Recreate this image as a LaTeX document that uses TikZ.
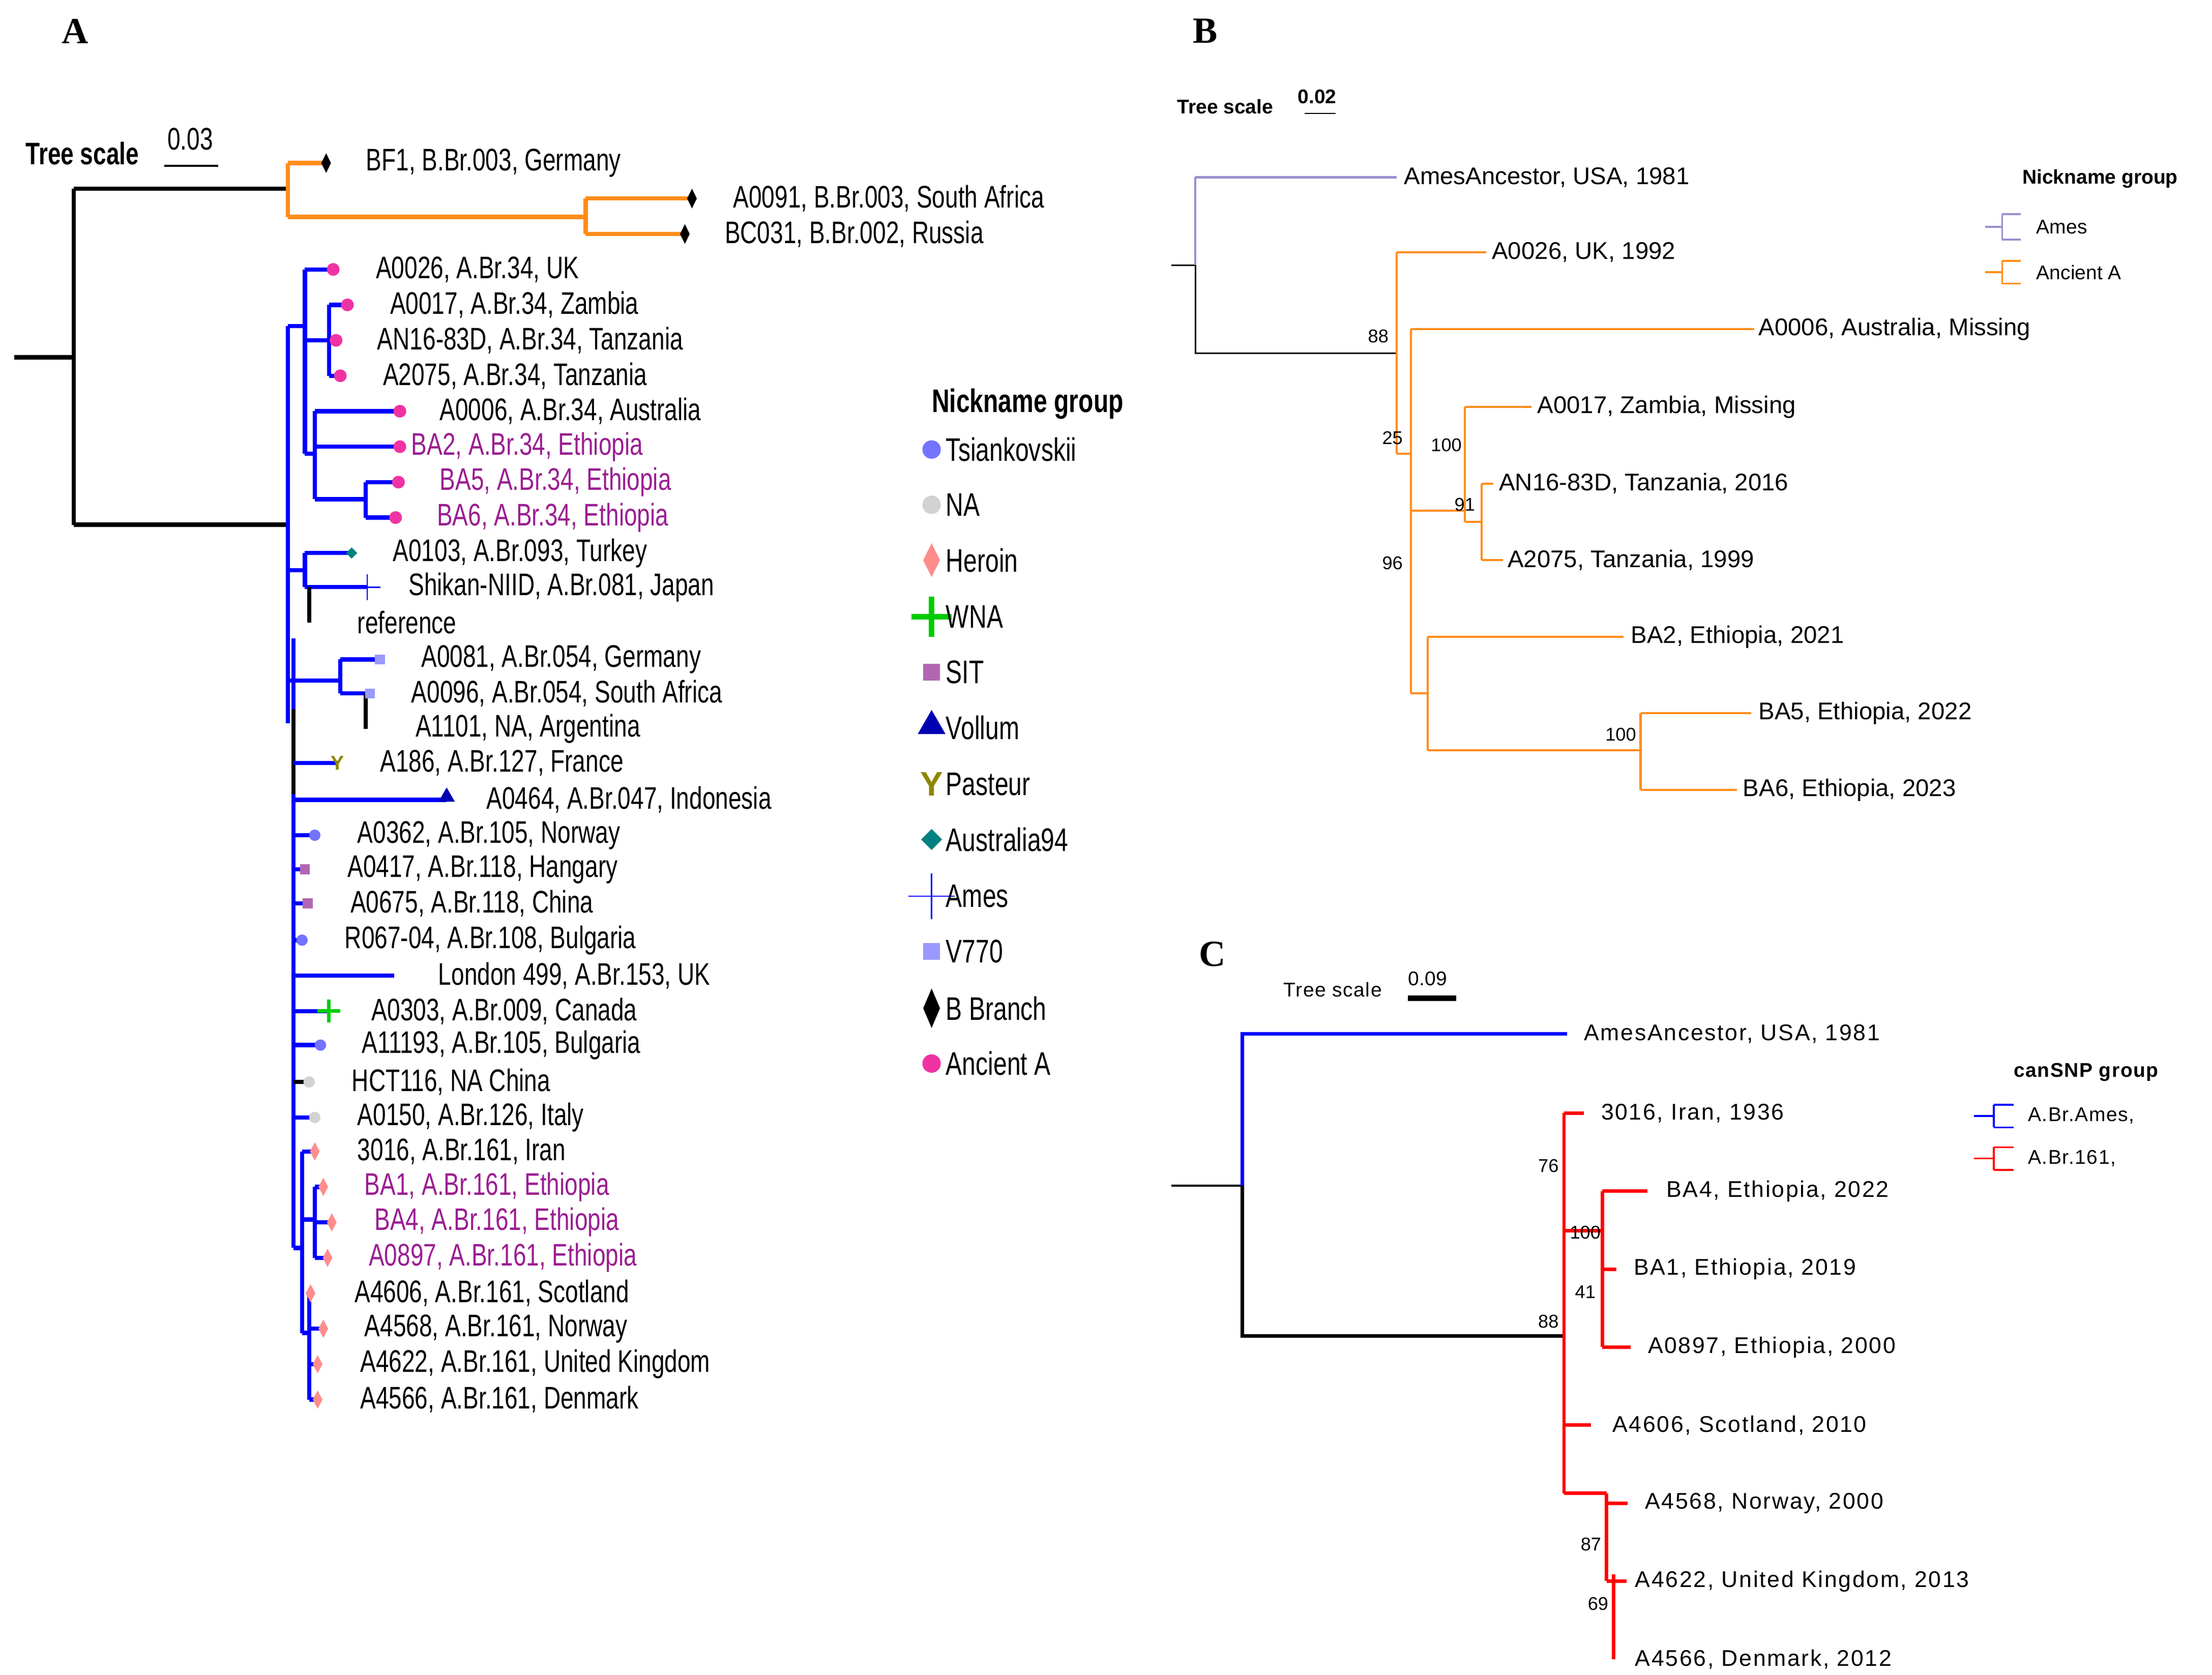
\documentclass[tikz,border=0pt]{standalone}
\usepackage{fontspec}
\setmainfont{Liberation Sans}
\usetikzlibrary{shapes.geometric,shapes.misc}
\definecolor{pur}{HTML}{9B1E91}
\definecolor{orb}{HTML}{FF8C1A}
\definecolor{lav}{HTML}{9A8FD0}
\tikzset{
 la/.style={anchor=west,inner sep=0,font=\fontsize{22}{22}\selectfont,xscale=0.75},
 lb/.style={anchor=west,inner sep=0,font=\fontsize{17}{17}\selectfont},
 lc/.style={anchor=west,inner sep=0,font=\fontsize{16}{16}\selectfont\addfontfeature{LetterSpace=6}},
 bs/.style={inner sep=0,font=\fontsize{13}{13}\selectfont},
 bl/.style={blue,line width=3pt},
 ol/.style={orb,line width=3pt},
 kl/.style={black,line width=3pt},
 ancA/.style={circle,fill=magenta!80,inner sep=0,minimum size=9pt},
 tsi/.style={circle,fill=blue!55,inner sep=0,minimum size=8pt},
 nag/.style={circle,fill=gray!35,inner sep=0,minimum size=8pt},
 her/.style={diamond,fill=red!45,inner sep=0,minimum width=7pt,minimum height=13pt},
 bbr/.style={diamond,fill=black,inner sep=0,minimum width=7pt,minimum height=14pt},
 sit/.style={rectangle,fill=violet!60,inner sep=0,minimum size=7pt},
 vsq/.style={rectangle,fill=blue!40,inner sep=0,minimum size=7pt},
 aus/.style={diamond,fill=teal,inner sep=0,minimum size=8pt},
 pas/.style={inner sep=0,text=olive,font=\bfseries\fontsize{14}{14}\selectfont},
 wna/.style={cross out,draw=green!80!black,line width=2.5pt,inner sep=0,minimum size=9pt,rotate=45},
 ame/.style={cross out,draw=blue,line width=1pt,inner sep=0,minimum size=14pt,rotate=45},
 vol/.style={isosceles triangle,shape border rotate=90,fill=blue!70!black,inner sep=0,minimum size=10pt,isosceles triangle apex angle=60},
}
\begin{document}
\begin{tikzpicture}[x=1pt,y=-1pt]
\useasboundingbox (0,0) rectangle (1560,1181);
% ---------------- Panel A
\node (pA) at (53,22) {\fontspec{Liberation Serif}\bfseries\fontsize{26}{26}\selectfont A};
\node[la,font=\bfseries\fontsize{22}{22}\selectfont] (tsA) at (18,108) {Tree scale};
\node[la] (tsAn) at (118,98) {0.03};
\draw[line width=1.5pt] (116,117) -- (154,117);
\draw[kl] (10,252) -- (52,252);
\draw[kl] (52,133) -- (52,370);
\draw[kl] (52,133) -- (203,133);
\draw[kl] (52,370) -- (203,370);
% B branch
\draw[ol] (203,115) -- (203,153);
\draw[ol] (203,115) -- (230,115);
\draw[ol] (203,153) -- (413,153);
\draw[ol] (413,140) -- (413,165);
\draw[ol] (413,140) -- (488,140);
\draw[ol] (413,165) -- (483,165);
\node[bbr] (tBF1) at (230,115) {};
\node[bbr] (tA0091) at (488,140) {};
\node[bbr] (tBC031) at (483,165) {};
\node[la] at (258,115) {BF1, B.Br.003, Germany};
\node[la] at (517,140) {A0091, B.Br.003, South Africa};
\node[la] at (511,165) {BC031, B.Br.002, Russia};
% blue backbone
\draw[bl] (203,230) -- (203,510);
\draw[bl] (207,450) -- (207,880);
\draw[kl] (207,500) -- (207,560);
% Ancient A clade
\draw[bl] (203,230) -- (215,230);
\draw[bl] (215,190) -- (215,320);
\draw[bl] (215,190) -- (235,190);
\draw[bl] (215,240) -- (232,240);
\draw[bl] (232,215) -- (232,265);
\draw[bl] (232,215) -- (245,215);
\draw[bl] (232,240) -- (237,240);
\draw[bl] (232,265) -- (240,265);
\draw[bl] (215,320) -- (222,320);
\draw[bl] (222,290) -- (222,352);
\draw[bl] (222,290) -- (282,290);
\draw[bl] (222,315) -- (282,315);
\draw[bl] (222,352) -- (258,352);
\draw[bl] (258,340) -- (258,365);
\draw[bl] (258,340) -- (281,340);
\draw[bl] (258,365) -- (279,365);
\foreach \n/\x/\y in {a1/235/190,a2/245/215,a3/237/240,a4/240/265,a5/282/290,a6/282/315,a7/281/340,a8/279/365} \node[ancA] (\n) at (\x,\y) {};
% Turkey, Japan, reference
\draw[bl] (203,402) -- (215,402);
\draw[bl] (215,390) -- (215,414);
\draw[bl] (215,390) -- (248,390);
\draw[bl] (215,414) -- (259,414);
\draw[kl] (218,414) -- (218,439);
\node[aus] (t0103) at (248,390) {};
\node[ame,minimum size=12pt] (tShi) at (259,414) {};
% V770 clade
\draw[bl] (203,480) -- (240,480);
\draw[bl] (240,465) -- (240,489);
\draw[bl] (240,465) -- (268,465);
\draw[bl] (240,489) -- (258,489);
\draw[kl] (258,489) -- (258,514);
\node[vsq] (t0081) at (268,465) {};
\node[vsq] (t0096) at (261,489) {};
% singles
\draw[bl] (207,538) -- (238,538);
\node[pas] (t186) at (238,538) {Y};
\draw[bl] (207,564) -- (315,564);
\node[vol] (t0464) at (315,562) {};
\draw[bl] (207,589) -- (222,589); \node[tsi] (t0362) at (222,589) {};
\draw[bl] (207,613) -- (215,613); \node[sit] (t0417) at (215,613) {};
\draw[bl] (207,637) -- (217,637); \node[sit] (t0675) at (217,637) {};
\draw[bl] (207,663) -- (213,663); \node[tsi] (tR06) at (213,663) {};
\draw[bl] (207,688) -- (278,688);
\draw[bl] (207,713) -- (232,713); \node[wna] (t0303) at (232,713) {};
\draw[bl] (207,737) -- (226,737); \node[tsi] (t1119) at (226,737) {};
\draw[kl] (207,763) -- (218,763); \node[nag] (tHCT) at (218,763) {};
\draw[bl] (207,788) -- (222,788); \node[nag] (t0150) at (222,788) {};
% Heroin clade
\draw[bl] (207,880) -- (213,880);
\draw[bl] (213,812) -- (213,940);
\draw[bl] (213,812) -- (222,812);
\draw[bl] (213,860) -- (222,860);
\draw[bl] (222,837) -- (222,887);
\draw[bl] (222,837) -- (228,837);
\draw[bl] (222,862) -- (234,862);
\draw[bl] (222,887) -- (231,887);
\draw[bl] (213,940) -- (218,940);
\draw[bl] (218,912) -- (218,987);
\draw[bl] (218,912) -- (219,912);
\draw[bl] (218,937) -- (228,937);
\draw[bl] (218,962) -- (224,962);
\draw[bl] (218,987) -- (224,987);
\foreach \n/\x/\y in {h1/222/812,h2/228/837,h3/234/862,h4/231/887,h5/219/912,h6/228/937,h7/224/962,h8/224/987} \node[her] (\n) at (\x,\y) {};
% labels A
\foreach \x/\y/\t in {265/190/{A0026, A.Br.34, UK},275/215/{A0017, A.Br.34, Zambia},266/240/{AN16-83D, A.Br.34, Tanzania},270/265/{A2075, A.Br.34, Tanzania},310/290/{A0006, A.Br.34, Australia},277/390/{A0103, A.Br.093, Turkey},288/414/{Shikan-NIID, A.Br.081, Japan},252/439/{reference},297/465/{A0081, A.Br.054, Germany},290/489/{A0096, A.Br.054, South Africa},293/514/{A1101, NA, Argentina},268/538/{A186, A.Br.127, France},343/564/{A0464, A.Br.047, Indonesia},252/589/{A0362, A.Br.105, Norway},245/613/{A0417, A.Br.118, Hangary},247/637/{A0675, A.Br.118, China},243/663/{R067-04, A.Br.108, Bulgaria},309/688/{London 499, A.Br.153, UK},262/713/{A0303, A.Br.009, Canada},255/737/{A11193, A.Br.105, Bulgaria},248/763/{HCT116, NA China},252/788/{A0150, A.Br.126, Italy},252/812/{3016, A.Br.161, Iran},250/912/{A4606, A.Br.161, Scotland},257/937/{A4568, A.Br.161, Norway},254/962/{A4622, A.Br.161, United Kingdom},254/987/{A4566, A.Br.161, Denmark}}
 \node[la] at (\x,\y) {\t};
\foreach \x/\y/\t in {290/315/{BA2, A.Br.34, Ethiopia},310/340/{BA5, A.Br.34, Ethiopia},308/365/{BA6, A.Br.34, Ethiopia},257/837/{BA1, A.Br.161, Ethiopia},264/862/{BA4, A.Br.161, Ethiopia},260/887/{A0897, A.Br.161, Ethiopia}}
 \node[la,text=pur] at (\x,\y) {\t};
% legend A
\node[la,font=\bfseries\fontsize{23}{23}\selectfont] (lgA) at (657,285) {Nickname group};
\node[tsi,minimum size=13pt] (m1) at (657,317) {};
\node[nag,minimum size=13pt] (m2) at (657,356) {};
\node[her,minimum width=12pt,minimum height=24pt] (m3) at (657,395) {};
\node[wna,minimum size=16pt,line width=4pt] (m4) at (657,435) {};
\node[sit,minimum size=12pt] (m5) at (657,474) {};
\node[vol,minimum size=17pt] (m6) at (657,512) {};
\node[pas,font=\bfseries\fontsize{24}{24}\selectfont] (m7) at (657,553) {Y};
\node[aus,minimum size=15pt] (m8) at (657,592) {};
\node[ame,minimum size=22pt] (m9) at (657,632) {};
\node[vsq,minimum size=12pt] (m10) at (657,671) {};
\node[bbr,minimum width=12pt,minimum height=28pt] (m11) at (657,711) {};
\node[ancA,minimum size=13pt] (m12) at (657,750) {};
\foreach \y/\t in {317/Tsiankovskii,356/NA,395/Heroin,435/WNA,474/SIT,513/Vollum,553/Pasteur,592/Australia94,632/Ames,671/V770,711/B Branch,750/Ancient A}
 \node[la,font=\fontsize{23}{23}\selectfont] at (667,\y) {\t};
% ---------------- Panel B
\node (pB) at (850,22) {\fontspec{Liberation Serif}\bfseries\fontsize{26}{26}\selectfont B};
\node[lb,font=\bfseries\fontsize{14}{14}\selectfont] (tsB) at (830,75) {Tree scale};
\node[lb,font=\bfseries\fontsize{14}{14}\selectfont] (tsBn) at (915,68) {0.02};
\draw[line width=1pt] (920,80) -- (942,80);
\draw[line width=1pt] (826,187) -- (843,187);
\draw[lav,line width=1.5pt] (843,125) -- (843,187) (843,125) -- (985,125);
\draw[line width=1pt] (843,187) -- (843,249) -- (985,249);
\node[bs] at (972,237) {88};
\begin{scope}[orb,line width=1.5pt]
\draw (985,178) -- (985,320); \draw (985,178) -- (1048,178);
\draw (985,320) -- (995,320); \draw (995,232) -- (995,489); \draw (995,232) -- (1237,232);
\draw (995,360) -- (1033,360); \draw (1033,287) -- (1033,368); \draw (1033,287) -- (1080,287);
\draw (1033,368) -- (1045,368); \draw (1045,341) -- (1045,395); \draw (1045,341) -- (1053,341); \draw (1045,395) -- (1060,395);
\draw (995,489) -- (1007,489); \draw (1007,449) -- (1007,529); \draw (1007,449) -- (1145,449);
\draw (1007,529) -- (1157,529); \draw (1157,503) -- (1157,557); \draw (1157,503) -- (1235,503); \draw (1157,557) -- (1225,557);
\end{scope}
\node[bs] at (982,309) {25}; \node[bs] at (1020,314) {100}; \node[bs] at (1033,356) {91};
\node[bs] at (982,397) {96}; \node[bs] at (1143,518) {100};
\foreach \x/\y/\t in {990/125/{AmesAncestor, USA, 1981},1052/178/{A0026, UK, 1992},1240/232/{A0006, Australia, Missing},1084/287/{A0017, Zambia, Missing},1057/341/{AN16-83D, Tanzania, 2016},1063/395/{A2075, Tanzania, 1999},1150/449/{BA2, Ethiopia, 2021},1240/503/{BA5, Ethiopia, 2022},1229/557/{BA6, Ethiopia, 2023}}
 \node[lb] at (\x,\y) {\t};
\node[lb,font=\bfseries\fontsize{14}{14}\selectfont] (lgB) at (1426,126) {Nickname group};
\draw[lav,line width=1.3pt] (1400,160) -- (1412,160) (1412,151) -- (1412,169) (1412,151) -- (1425,151) (1412,169) -- (1425,169);
\draw[orb,line width=1.3pt] (1400,192) -- (1412,192) (1412,184) -- (1412,200) (1412,184) -- (1425,184) (1412,200) -- (1425,200);
\node[lb,font=\fontsize{14}{14}\selectfont] at (1436,160) {Ames};
\node[lb,font=\fontsize{14}{14}\selectfont] at (1436,192) {Ancient A};
% ---------------- Panel C
\node (pC) at (855,673) {\fontspec{Liberation Serif}\bfseries\fontsize{26}{26}\selectfont C};
\node[lb,font=\fontsize{14}{14}\selectfont\addfontfeature{LetterSpace=4}] (tsC) at (905,698) {Tree scale};
\node[lb,font=\fontsize{14}{14}\selectfont] (tsCn) at (993,690) {0.09};
\draw[line width=4pt] (993,704) -- (1027,704);
\draw[line width=1.5pt] (826,836) -- (876,836);
\draw[blue,line width=2.5pt] (876,836) -- (876,729) -- (1105,729);
\draw[line width=2.5pt] (876,836) -- (876,942) -- (1103,942);
\node[bs] at (1092,932) {88};
\begin{scope}[red,line width=2.5pt]
\draw (1103,785) -- (1103,1053); \draw (1103,785) -- (1117,785);
\draw (1103,868) -- (1130,868); \draw (1130,840) -- (1130,922); \draw (1130,840) -- (1162,840);
\draw (1130,895) -- (1140,895); \draw (1130,950) -- (1130,922); \draw (1130,950) -- (1150,950);
\draw (1103,1005) -- (1122,1005);
\draw (1103,1053) -- (1122,1053); \draw (1122,1053) -- (1133,1053);
\draw (1133,1053) -- (1133,1115); \draw (1133,1060) -- (1148,1060);
\draw (1133,1115) -- (1138,1115); \draw (1138,1110) -- (1138,1170); \draw (1138,1115) -- (1147,1115);
\end{scope}
\node[bs] at (1092,822) {76}; \node[bs] at (1118,869) {100}; \node[bs] at (1118,911) {41};
\node[bs] at (1122,1089) {87}; \node[bs] at (1127,1131) {69};
\foreach \x/\y/\t in {1117/729/{AmesAncestor, USA, 1981},1129/785/{3016, Iran, 1936},1175/840/{BA4, Ethiopia, 2022},1152/895/{BA1, Ethiopia, 2019},1162/950/{A0897, Ethiopia, 2000},1137/1005/{A4606, Scotland, 2010},1160/1060/{A4568, Norway, 2000},1153/1115/{A4622, United Kingdom, 2013},1153/1170/{A4566, Denmark, 2012}}
 \node[lc] at (\x,\y) {\t};
\node[lb,font=\bfseries\fontsize{14}{14}\selectfont\addfontfeature{LetterSpace=4}] (lgC) at (1420,756) {canSNP group};
\draw[blue,line width=1.3pt] (1392,787) -- (1406,787) (1406,779) -- (1406,795) (1406,779) -- (1420,779) (1406,795) -- (1420,795);
\draw[red,line width=1.3pt] (1392,817) -- (1406,817) (1406,809) -- (1406,825) (1406,809) -- (1420,809) (1406,825) -- (1420,825);
\node[lc,font=\fontsize{14}{14}\selectfont\addfontfeature{LetterSpace=4}] at (1430,787) {A.Br.Ames,};
\node[lc,font=\fontsize{14}{14}\selectfont\addfontfeature{LetterSpace=4}] at (1430,817) {A.Br.161,};
\end{tikzpicture}
\end{document}
